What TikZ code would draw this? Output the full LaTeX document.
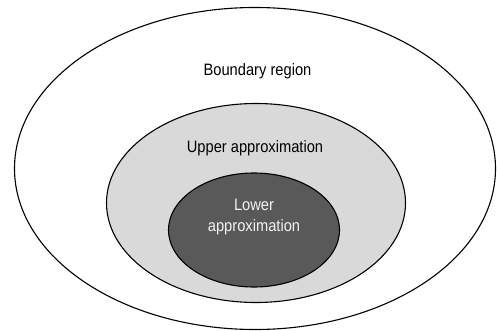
\documentclass[tikz,border=0pt]{standalone}
\usepackage{fontspec}
\setmainfont{Liberation Sans}
\newfontfamily\narrowsans[FakeStretch=0.89]{Liberation Sans}
\usetikzlibrary{shapes.geometric}
\definecolor{upperfill}{HTML}{D9D9D9}
\definecolor{lowerfill}{HTML}{595959}
\definecolor{lowertext}{HTML}{F2F2F2}
\tikzset{
  region/.style={ellipse, draw=black, line width=1.1pt, inner sep=0pt},
  label/.style={font=\narrowsans\fontsize{16.5}{21}\selectfont, inner sep=0pt, align=center, text=black}
}
\begin{document}
\begin{tikzpicture}[x=1pt,y=-1pt]
\useasboundingbox (0,0) rectangle (497,331);
\fill[white] (0,0) rectangle (497,331);
\node[region, fill=white, minimum width=481pt, minimum height=322pt] (outer) at (255,168.5) {};
\node[region, fill=upperfill, minimum width=299pt, minimum height=199pt] (upper) at (256,203) {};
\node[region, fill=lowerfill, minimum width=171pt, minimum height=114pt] (lower) at (254,230) {};
\node[label] (boundarytext) at (257.5,71) {Boundary region};
\node[label] (uppertext) at (255,148) {Upper approximation};
\node[label, text=lowertext] (lowertext) at (254,217.5) {Lower\\approximation};
\end{tikzpicture}
\end{document}
